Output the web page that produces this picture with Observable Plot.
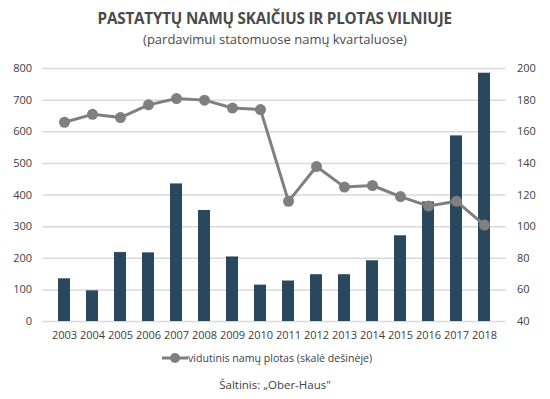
<!DOCTYPE html>
<html>
<head>
<meta charset="utf-8">
<script src="https://cdn.jsdelivr.net/npm/d3@7"></script>
<script src="https://cdn.jsdelivr.net/npm/@observablehq/plot@0.6"></script>
<style>
  html, body { margin: 0; padding: 0; background: #fff; }
  #wrap { position: relative; width: 550px; height: 399px; font-family: "Open Sans", sans-serif; color: #4d4d4d; }
  #title { position: absolute; top: 9px; left: 0; width: 550px; height: 18px; line-height: 18px; text-align: center; font-weight: 700; font-size: 16.8px; color: #4a4a4a; white-space: nowrap; }
  #title span { display: inline-block; transform: scaleX(0.905); transform-origin: center; letter-spacing: -0.2px; }
  #subtitle { position: absolute; top: 31px; left: 0; width: 550px; height: 16px; line-height: 16px; text-align: center; font-size: 13px; font-weight: 400; color: #4a4a4a; }
  #chart { position: absolute; top: 58px; left: 0; }
  #legend { position: absolute; top: 351px; left: 162px; font-size: 10.6px; color: #404040; display: flex; align-items: center; white-space: nowrap; }
  #caption { position: absolute; top: 377px; left: 0; width: 550px; text-align: center; font-size: 11.5px; color: #404040; }
</style>
</head>
<body>
<div id="wrap">
  <div id="title"><span>PASTATYTŲ NAMŲ SKAIČIUS IR PLOTAS VILNIUJE</span></div>
  <div id="subtitle">(pardavimui statomuose namų kvartaluose)</div>
  <div id="chart"></div>
  <div id="legend">
    <svg width="26" height="14"><line x1="0" y1="7" x2="26" y2="7" stroke="#7f7f7f" stroke-width="3"></line><circle cx="13" cy="7" r="5" fill="#7f7f7f"></circle></svg>
    <span>vidutinis namų plotas (skalė dešinėje)</span>
  </div>
  <div id="caption">Šaltinis: „Ober-Haus"</div>
</div>
<script>
const years = [2003,2004,2005,2006,2007,2008,2009,2010,2011,2012,2013,2014,2015,2016,2017,2018];
const houses = [135,97,218,217,435,351,204,115,128,148,148,192,271,378,587,785];
const avgArea = [166,171,169,177,181,180,175,174,116,138,125,126,119,113,116,101];
const leftTicks = [0,100,200,300,400,500,600,700,800];
const rightTicks = [40,60,80,100,120,140,160,180,200];

// right axis (40..200) mapped onto left scale (0..800)
const toLeft = v => (v - 40) * 5;
const fromLeft = v => v / 5 + 40;

const data = years.map((y, i) => ({year: String(y), houses: houses[i], area: avgArea[i]}));

const chart = Plot.plot({
  width: 550,
  height: 290,
  marginTop: 10,
  marginBottom: 27,
  marginLeft: 42.5,
  marginRight: 44.5,
  style: {fontFamily: "'Open Sans', sans-serif", fontSize: "11px", color: "#595959", background: "transparent"},
  x: {type: "band", domain: years.map(String), paddingInner: 0.575, paddingOuter: 0.29, label: null},
  y: {domain: [0, 800], label: null},
  marks: [
    Plot.gridY(leftTicks, {stroke: "#d9d9d9", strokeOpacity: 1, strokeWidth: 1.5}),
    Plot.barY(data, {x: "year", y: "houses", fill: "#2a485d"}),
    Plot.line(data, {x: "year", y: d => toLeft(d.area), stroke: "#7f7f7f", strokeWidth: 3}),
    Plot.dot(data, {x: "year", y: d => toLeft(d.area), r: 5.5, fill: "#7f7f7f", stroke: "none"}),
    Plot.axisX({tickSize: 0, tickPadding: 10, label: null, fill: "#404040"}),
    Plot.axisY(leftTicks, {anchor: "left", tickSize: 0, tickPadding: 11, label: null, fill: "#404040"}),
    Plot.axisY(rightTicks.map(toLeft), {anchor: "right", tickSize: 0, tickPadding: 11, label: null, tickFormat: fromLeft, fill: "#404040"})
  ]
});
document.getElementById("chart").appendChild(chart);
</script>
</body>
</html>
